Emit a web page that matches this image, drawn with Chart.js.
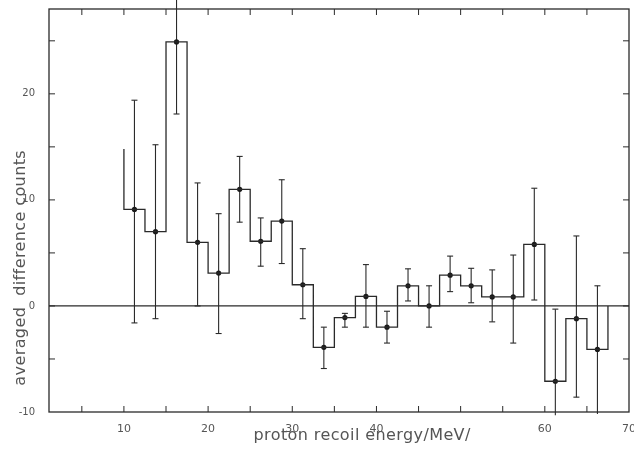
<!DOCTYPE html>
<html>
<head>
<meta charset="utf-8">
<script src="https://cdn.jsdelivr.net/npm/chart.js@4.4.1/dist/chart.umd.min.js"></script>
<style>
  html, body { margin: 0; padding: 0; background: #ffffff; }
  #wrap { width: 634px; height: 450px; }
</style>
</head>
<body>
<div id="wrap"><canvas id="c" width="634" height="450"></canvas></div>
<script>
// ---- data ----
const binStart = 10;          // MeV, left edge of first bin
const binWidth = 2.5;         // MeV
const leadValue = 14.8;       // top of the leading vertical segment at the first edge
const values = [9.1, 7.0, 24.9, 6.0, 3.1, 11.0, 6.1, 8.0, 2.0, -3.9, -1.1, 0.9, -2.0, 1.9, 0.0, 2.9, 1.9, 0.85, 0.85, 5.8, -7.1, -1.2, -4.1];
const errHi  = [19.4, 15.2, 31.9, 11.6, 8.7, 14.1, 8.3, 11.9, 5.4, -2.0, -0.7, 3.9, -0.5, 3.5, 1.9, 4.7, 3.55, 3.4, 4.8, 11.1, -0.3, 6.6, 1.9];
const errLo  = [-1.6, -1.2, 18.1, 0.0, -2.6, 7.9, 3.75, 4.0, -1.2, -5.9, -2.0, -2.0, -3.5, 0.47, -2.0, 1.35, 0.3, -1.5, -3.5, 0.56, -10.3, -8.6, -10.2];
const xTickValues = [10, 20, 30, 40, 60, 70];
const xMinorTicks = [5, 10, 15, 20, 25, 30, 35, 40, 45, 50, 55, 60, 65];
const yTickValues = [-10, 0, 10, 20];
const yMinorTicks = [-5, 0, 5, 10, 15, 20, 25];
const xMin = 1.1, xMax = 70, yMin = -10, yMax = 28;
const xTitle = 'proton recoil energy/MeV/';
const yTitle = 'averaged  difference counts';

// ---- derived series ----
const edges = values.map((v, i) => binStart + i * binWidth);
const centers = edges.map(e => e + binWidth / 2);
const histPts = [{x: binStart, y: leadValue}];
values.forEach((v, i) => {
  histPts.push({x: edges[i], y: v});
  histPts.push({x: edges[i] + binWidth, y: v});
});
histPts.push({x: edges[edges.length - 1] + binWidth, y: 0});
const pointData = centers.map((c, i) => ({x: c, y: values[i]}));

const INK = '#2a2a2a';
const TXT = '#555555';
const FONT = '"DejaVu Sans", sans-serif';

const decor = {
  id: 'decor',
  beforeDatasetsDraw(chart) {
    const {ctx, scales: {x, y}} = chart;
    ctx.save();
    ctx.strokeStyle = INK;
    ctx.lineWidth = 1.1;
    const line = (x1, y1, x2, y2) => { ctx.beginPath(); ctx.moveTo(x1, y1); ctx.lineTo(x2, y2); ctx.stroke(); };
    centers.forEach((c, i) => {
      const px = x.getPixelForValue(c);
      const pHi = y.getPixelForValue(errHi[i]);
      const pLo = y.getPixelForValue(errLo[i]);
      line(px, pHi, px, pLo);
      if (errHi[i] <= yMax) line(px - 3, pHi, px + 3, pHi);
      if (errLo[i] >= yMin) line(px - 3, pLo, px + 3, pLo);
    });
    ctx.restore();
  },
  afterDatasetsDraw(chart) {
    const {ctx, chartArea: a, scales: {x, y}} = chart;
    ctx.save();
    ctx.strokeStyle = INK;
    ctx.lineWidth = 1.3;
    const line = (x1, y1, x2, y2) => { ctx.beginPath(); ctx.moveTo(x1, y1); ctx.lineTo(x2, y2); ctx.stroke(); };
    ctx.strokeRect(a.left, a.top, a.right - a.left, a.bottom - a.top);
    ctx.lineWidth = 1;
    xMinorTicks.forEach(v => {
      const px = x.getPixelForValue(v);
      line(px, a.bottom, px, a.bottom - 6);
      line(px, a.top, px, a.top + 6);
    });
    yMinorTicks.forEach(v => {
      const py = y.getPixelForValue(v);
      line(a.left, py, a.left + 6, py);
      line(a.right, py, a.right - 6, py);
    });
    // axis titles
    ctx.fillStyle = TXT;
    ctx.font = '16px ' + FONT;
    try { ctx.letterSpacing = '0.4px'; } catch (e) {}
    ctx.textAlign = 'center';
    ctx.textBaseline = 'alphabetic';
    ctx.fillText(xTitle, x.getPixelForValue(38.3), a.bottom + 28);
    ctx.translate(25, y.getPixelForValue(3.6));
    ctx.rotate(-Math.PI / 2);
    ctx.fillText(yTitle, 0, 0);
    ctx.restore();
  }
};

new Chart(document.getElementById('c'), {
  data: {
    datasets: [
      { type: 'line', data: [{x: xMin, y: 0}, {x: xMax, y: 0}], borderColor: INK, borderWidth: 1.2, pointRadius: 0, tension: 0 },
      { type: 'line', data: histPts, borderColor: INK, borderWidth: 1.3, pointRadius: 0, tension: 0, fill: false },
      { type: 'scatter', data: pointData, pointRadius: 2.6, pointBackgroundColor: '#1a1a1a', pointBorderColor: '#1a1a1a', pointBorderWidth: 0 }
    ]
  },
  options: {
    responsive: false,
    animation: false,
    events: [],
    layout: { padding: { top: 9, right: 5, left: 0, bottom: 0 } },
    plugins: { legend: { display: false }, tooltip: { enabled: false } },
    scales: {
      x: {
        type: 'linear', min: xMin, max: xMax,
        grid: { display: false }, border: { display: false },
        afterBuildTicks: s => { s.ticks = xTickValues.map(v => ({value: v})); },
        afterFit: s => { s.height = 38; s.paddingLeft = 0; s.paddingRight = 0; },
        ticks: { color: TXT, font: { family: FONT, size: 11 }, padding: 3, maxRotation: 0, callback: v => String(v) }
      },
      y: {
        type: 'linear', min: yMin, max: yMax,
        grid: { display: false }, border: { display: false },
        afterBuildTicks: s => { s.ticks = yTickValues.map(v => ({value: v})); },
        afterFit: s => { s.width = 49; s.paddingTop = 0; s.paddingBottom = 0; },
        ticks: { color: TXT, font: { family: FONT, size: 10 }, padding: 6, callback: v => String(v) }
      }
    }
  },
  plugins: [decor]
});
</script>
</body>
</html>
